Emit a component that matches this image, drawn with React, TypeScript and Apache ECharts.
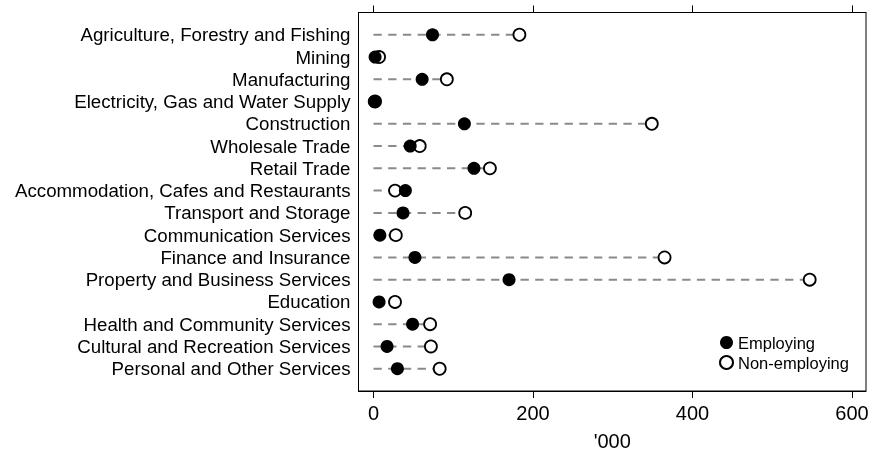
import React, { useEffect, useRef } from "react";
import * as echarts from "echarts";

const categories = [
  "Agriculture, Forestry and Fishing",
  "Mining",
  "Manufacturing",
  "Electricity, Gas and Water Supply",
  "Construction",
  "Wholesale Trade",
  "Retail Trade",
  "Accommodation, Cafes and Restaurants",
  "Transport and Storage",
  "Communication Services",
  "Finance and Insurance",
  "Property and Business Services",
  "Education",
  "Health and Community Services",
  "Cultural and Recreation Services",
  "Personal and Other Services",
];
const employing = [74, 2, 61, 1, 114, 46, 126, 40, 37, 8, 52, 170, 7, 49, 17, 30];
const nonEmploying = [183, 7, 92, 2, 349, 58, 146, 27, 115, 28, 365, 547, 27, 71, 72, 83];
const xTicks = [0, 200, 400, 600];

export default function App() {
  const ref = useRef<HTMLDivElement>(null);
  useEffect(() => {
    const chart = echarts.init(ref.current!, null, { renderer: "svg" });
    const font = "'Liberation Sans', Arial, sans-serif";
    const rows = categories.map((_, i) => i + 1);
    const xMin = -18.8;
    const xMax = 617.6;
    const tickStyle = { show: true, inside: false, length: 7, customValues: xTicks, lineStyle: { color: "#000", width: 1 } };
    chart.setOption({
      animation: false,
      grid: {
        left: 358.5,
        right: 13,
        top: 12.5,
        bottom: 61,
        containLabel: false,
        outerBoundsMode: "none",
        show: true,
        borderColor: "#000",
        borderWidth: 1,
        backgroundColor: "transparent",
      },
      xAxis: [
        {
          type: "value",
          position: "bottom",
          min: xMin,
          max: xMax,
          name: "'000",
          nameLocation: "middle",
          nameGap: 40,
          nameTextStyle: { color: "#000", fontSize: 20, fontFamily: font },
          axisLine: { show: true, onZero: false, lineStyle: { color: "#000", width: 1 } },
          axisTick: tickStyle,
          axisLabel: { customValues: xTicks, margin: 12, color: "#000", fontSize: 20, fontFamily: font },
          splitLine: { show: false },
        },
        {
          type: "value",
          position: "top",
          min: xMin,
          max: xMax,
          axisLine: { show: true, onZero: false, lineStyle: { color: "#000", width: 1 } },
          axisTick: tickStyle,
          axisLabel: { show: false },
          splitLine: { show: false },
        },
      ],
      yAxis: {
        type: "value",
        min: 0,
        max: 17,
        inverse: true,
        axisLine: { show: true, onZero: false, lineStyle: { color: "#000", width: 1 } },
        axisTick: { show: false },
        splitLine: { show: false },
        axisLabel: {
          customValues: rows,
          formatter: (v: number) => categories[Math.round(v) - 1] ?? "",
          margin: 8,
          color: "#000",
          fontSize: 18.7,
          fontFamily: font,
        },
      },
      legend: {
        orient: "vertical",
        left: 714,
        top: 329,
        itemWidth: 13,
        itemHeight: 13,
        itemGap: 3,
        data: ["Employing", "Non-employing"],
        textStyle: { color: "#000", fontSize: 16.5, fontFamily: font },
      },
      series: [
        {
          type: "custom",
          silent: true,
          z: 1,
          data: rows.map((r, i) => [Math.max(employing[i], nonEmploying[i]), r]),
          encode: { x: 0, y: 1 },
          renderItem: (params: any, api: any) => {
            const y = api.value(1);
            const p0 = api.coord([0, y]);
            const p1 = api.coord([api.value(0), y]);
            return {
              type: "line",
              shape: { x1: p0[0], y1: p0[1], x2: p1[0], y2: p1[1] },
              style: { stroke: "#8a8a8a", lineWidth: 2, lineDash: [8.3, 6.4] },
            };
          },
        },
        {
          name: "Non-employing",
          type: "scatter",
          z: 2,
          symbol: "circle",
          symbolSize: 12,
          data: nonEmploying.map((v, i) => [v, i + 1]),
          itemStyle: { color: "#fff", borderColor: "#000", borderWidth: 1.8, opacity: 1 },
        },
        {
          name: "Employing",
          type: "scatter",
          z: 3,
          symbol: "circle",
          symbolSize: 13,
          data: employing.map((v, i) => [v, i + 1]),
          itemStyle: { color: "#000", opacity: 1 },
        },
      ],
    });
    return () => chart.dispose();
  }, []);
  return <div ref={ref} style={{ position: "fixed", left: 0, top: 0, width: 879, height: 452 }} />;
}
